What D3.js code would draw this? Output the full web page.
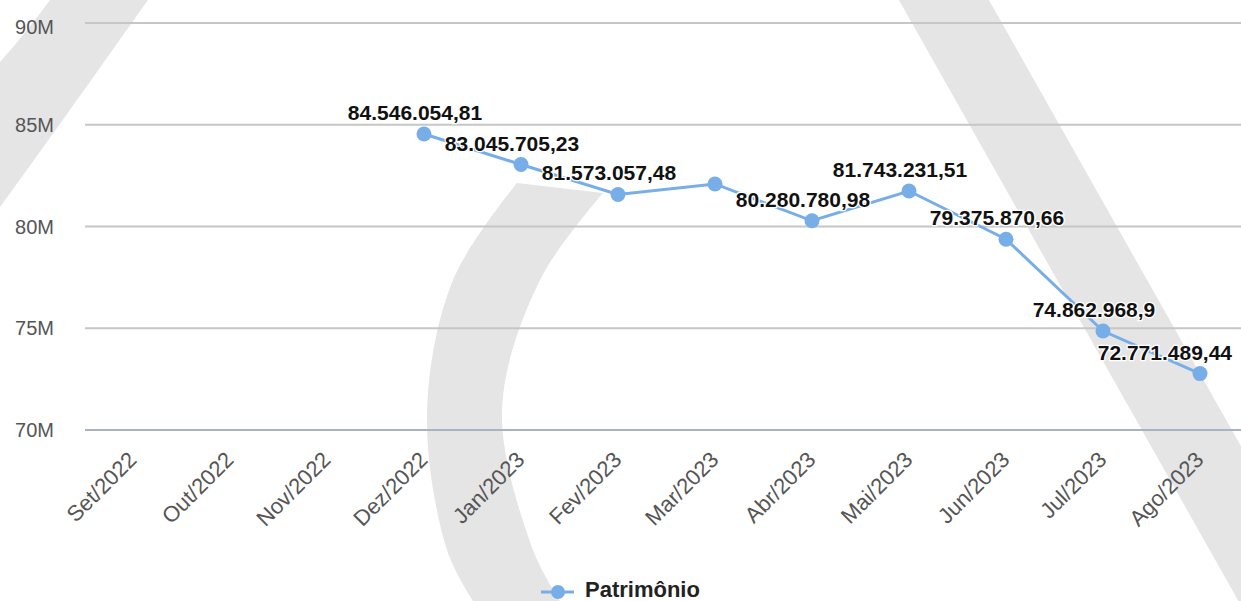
<!DOCTYPE html>
<html>
<head>
<meta charset="utf-8">
<script src="https://cdn.jsdelivr.net/npm/d3@7"></script>
<style>
  html, body { margin: 0; padding: 0; background: #fff; }
  svg { display: block; font-family: "Liberation Sans", Arial, sans-serif; }
</style>
</head>
<body>
<svg id="chart" width="1241" height="601"></svg>
<script>
// Monthly net worth series (Patrimônio), in BRL
const months = ["Set/2022", "Out/2022", "Nov/2022", "Dez/2022", "Jan/2023", "Fev/2023",
                "Mar/2023", "Abr/2023", "Mai/2023", "Jun/2023", "Jul/2023", "Ago/2023"];
const patrimonio = [null, null, null, 84546054.81, 83045705.23, 81573057.48,
                    82090000, 80280780.98, 81743231.51, 79375870.66, 74862968.9, 72771489.44];
const valueLabels = [null, null, null, "84.546.054,81", "83.045.705,23", "81.573.057,48",
                     null, "80.280.780,98", "81.743.231,51", "79.375.870,66", "74.862.968,9", "72.771.489,44"];
const yTicks = [70e6, 75e6, 80e6, 85e6, 90e6];
const yTickLabels = ["70M", "75M", "80M", "85M", "90M"];
const seriesName = "Patrimônio";

const W = 1241, H = 601;
const plotLeft = 85, plotRight = 1241;
const color = "#78aee8";

const svg = d3.select("#chart");

// Background watermark shapes
const wm = svg.append("g").attr("fill", "#e5e5e5");
const smooth = d3.line().curve(d3.curveCatmullRom.alpha(0.5));
// upper-left sweep
wm.append("path").attr("d", "M50,0 L148,0 C118,42 62,122 0,207 L0,62 Q26,33 50,0 Z");
// central arc
const outer = [[517,183],[453,280],[427,415],[447,550],[473,601]];
const inner = [[560,601],[533,550],[502,410],[540,280],[603,193]];
wm.append("path").attr("d",
  smooth(outer) + " L560,601 " + smooth(inner).replace("M", "L") + " Z");
// right diagonal band
const slope = 0.565;
wm.append("polygon").attr("points", [
  [978 - slope * 140, 0], [1068 - slope * 140, 0],
  [1068 + slope * (H - 140), H], [978 + slope * (H - 140), H]
].map(p => p.join(",")).join(" "));

// Scales
const x = d3.scalePoint().domain(months).range([133, 1200]);
const y = d3.scaleLinear().domain([70e6, 90e6]).range([430, 23]);

// Gridlines
svg.append("g").selectAll("line").data(yTicks).join("line")
  .attr("x1", plotLeft).attr("x2", plotRight)
  .attr("y1", d => y(d)).attr("y2", d => y(d))
  .attr("stroke", (d, i) => i === 0 ? "#aab2c0" : "#c6c6c6")
  .attr("stroke-width", 2);

// Y axis labels
svg.append("g").selectAll("text").data(yTicks).join("text")
  .attr("x", 54)
  .attr("y", d => Math.max(y(d), 27))
  .attr("dy", "0.35em")
  .attr("text-anchor", "end")
  .attr("font-size", 20)
  .attr("fill", "#555")
  .text((d, i) => yTickLabels[i]);

// X axis labels, rotated
svg.append("g").selectAll("text").data(months).join("text")
  .attr("transform", d => `translate(${x(d) + 5},461) rotate(-45)`)
  .attr("text-anchor", "end")
  .attr("font-size", 22)
  .attr("fill", "#555")
  .text(d => d);

// Series
const pts = months.map((m, i) => ({ m, v: patrimonio[i], label: valueLabels[i] }))
  .filter(d => d.v != null);

svg.append("path")
  .datum(pts)
  .attr("fill", "none")
  .attr("stroke", color)
  .attr("stroke-width", 3)
  .attr("d", d3.line().x(d => x(d.m)).y(d => y(d.v)));

svg.append("g").selectAll("circle").data(pts).join("circle")
  .attr("cx", d => x(d.m)).attr("cy", d => y(d.v))
  .attr("r", 7.5).attr("fill", color);

// Value annotations
const lab = svg.append("g").selectAll("text").data(pts.filter(d => d.label)).join("text")
  .attr("x", d => x(d.m) - 9)
  .attr("y", d => y(d.v) - 14)
  .attr("text-anchor", "middle")
  .attr("font-size", 21)
  .attr("font-weight", "bold")
  .attr("fill", "#111")
  .attr("stroke", "#fff")
  .attr("stroke-width", 2.5)
  .attr("paint-order", "stroke")
  .text(d => d.label);
lab.each(function () {
  const t = d3.select(this);
  const w = this.getComputedTextLength();
  const cx = +t.attr("x");
  if (cx + w / 2 > 1232) t.attr("x", 1232 - w / 2);
});

// Legend
const lg = svg.append("g");
lg.append("line").attr("x1", 541).attr("x2", 574).attr("y1", 592).attr("y2", 592)
  .attr("stroke", color).attr("stroke-width", 3);
lg.append("circle").attr("cx", 558).attr("cy", 592).attr("r", 7).attr("fill", color);
lg.append("text").attr("x", 585).attr("y", 597)
  .attr("font-size", 22).attr("font-weight", "bold").attr("fill", "#222")
  .text(seriesName);
</script>
</body>
</html>
